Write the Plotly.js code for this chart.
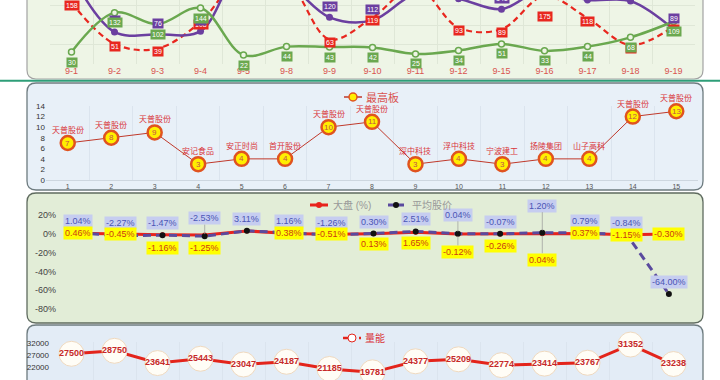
<!DOCTYPE html>
<html><head><meta charset="utf-8">
<script src="https://cdn.plot.ly/plotly-3.0.1.min.js"></script>
<style>html,body{margin:0;padding:0;background:#fff;}#chart{width:720px;height:380px;}</style>
</head><body><div id="chart"></div>
<script>
// ---------- data ----------
const dates = ['9-1','9-2','9-3','9-4','9-5','9-8','9-9','9-10','9-11','9-12','9-15','9-16','9-17','9-18','9-19'];
// panel 1 (three series, top of chart is cropped)
const redSeries    = [158, 51, 39, 108, 230, 215, 63, 119, 200, 93, 89, 175, 118, 48, 96];
const purpleSeries = [230, 82, 76, 84, 250, 210, 120, 112, 180, 168, 141, 195, 165, 162, 89];
const greenSeries  = [30, 132, 102, 144, 22, 44, 43, 42, 25, 34, 51, 33, 44, 68, 109];
// panel 2 最高板
const boardX     = ['1','2','3','4','5','6','7','8','9','10','11','12','13','14','15'];
const boardVal   = [7, 8, 9, 3, 4, 4, 10, 11, 3, 4, 3, 4, 4, 12, 13];
const boardName  = ['天普股份','天普股份','天普股份','安记食品','安正时尚','首开股份','天普股份','天普股份','深中科技','浮中科技','宁波建工','扬陵集团','山子高科','天普股份','天普股份'];
// panel 3
const marketPct  = [0.46, -0.45, -1.16, -1.25, 3.0, 0.38, -0.51, 0.13, 1.65, -0.12, -0.26, 0.04, 0.37, -1.15, -0.30];
const avgPct     = [1.04, -2.27, -1.47, -2.53, 3.11, 1.16, -1.26, 0.30, 2.51, 0.04, -0.07, 1.20, 0.79, -0.84, -64.00];
const pctTicks   = [20, 0, -20, -40, -60, -80];
// panel 4 量能
const volume     = [27500, 28750, 23641, 25443, 23047, 24187, 21185, 19781, 24377, 25209, 22774, 23414, 23767, 31352, 23238];
const volTicks   = [17000, 22000, 27000, 32000];

// ---------- label layout (style only) ----------
const marketLabelShift = [0, 0, -13, -13, null, 0, 0, -10, -11, -18, -12, -26, 0, 0, 0];
const avgLabelShift    = [12, 13, 12, 18, 12, 12, 12, 12, 12, 19, 12, 27, 12, 12, 12];

const W = 720, H = 380;
const px = p => p / W;
const py = p => 1 - p / H;
const FONT = 'Liberation Sans, Noto Sans CJK SC, sans-serif';

function roundRect(x0, y0, x1, y1, r) {
  return `M ${px(x0+r)},${py(y0)} L ${px(x1-r)},${py(y0)} Q ${px(x1)},${py(y0)} ${px(x1)},${py(y0+r)} ` +
         `L ${px(x1)},${py(y1-r)} Q ${px(x1)},${py(y1)} ${px(x1-r)},${py(y1)} L ${px(x0+r)},${py(y1)} ` +
         `Q ${px(x0)},${py(y1)} ${px(x0)},${py(y1-r)} L ${px(x0)},${py(y0+r)} Q ${px(x0)},${py(y0)} ${px(x0+r)},${py(y0)} Z`;
}

const traces = [
  // panel 1
  {x: dates, y: redSeries, xaxis: 'x', yaxis: 'y', name: '红', mode: 'lines',
   line: {color: '#e8271f', width: 2.2, dash: '6px,4px', shape: 'spline', smoothing: 1}},
  {x: dates, y: purpleSeries, xaxis: 'x', yaxis: 'y', name: '紫', mode: 'lines+markers',
   line: {color: '#6b3fa0', width: 2.5, shape: 'spline', smoothing: 1},
   marker: {size: 7, color: '#6b3fa0'}},
  {x: dates, y: greenSeries, xaxis: 'x', yaxis: 'y', name: '绿', mode: 'lines+markers',
   line: {color: '#6aa84f', width: 2.5, shape: 'spline', smoothing: 1},
   marker: {size: 6, color: '#eef5e6', line: {color: '#6aa84f', width: 1.5}}},
  // panel 2
  {x: boardX, y: boardVal, xaxis: 'x2', yaxis: 'y2', name: '最高板', mode: 'lines+markers',
   line: {color: '#c0392b', width: 1}, cliponaxis: false,
   marker: {size: 14, color: '#ffef00', line: {color: '#e0531f', width: 2.5}}},
  // panel 3
  {x: dates, y: marketPct, xaxis: 'x3', yaxis: 'y3', name: '大盘 (%)', mode: 'lines+markers',
   line: {color: '#e8231c', width: 3}, marker: {size: 5, color: '#e8231c'}, cliponaxis: false},
  {x: dates, y: avgPct, xaxis: 'x3', yaxis: 'y3', name: '平均股价', mode: 'lines+markers',
   line: {color: '#5a4a9e', width: 3, dash: '8px,5px'}, marker: {size: 6, color: '#111'}, cliponaxis: false},
  // panel 4
  {x: dates, y: volume, xaxis: 'x4', yaxis: 'y4', name: '量能', mode: 'lines+markers+text',
   line: {color: '#e3241b', width: 3}, cliponaxis: false,
   marker: {size: 25, color: '#fffdf6', line: {color: '#efd9bf', width: 1}},
   text: volume.map(String), textposition: 'middle center',
   textfont: {size: 9, color: '#c62828', weight: 'bold', family: FONT}}
];

// ---------- annotations ----------
const annotations = [];
const y1Top = 164.8;
function boxLabel(x, y, text, bg, shift) {
  annotations.push({xref: 'x', yref: 'y', x, y, text, showarrow: false, yshift: shift,
    bgcolor: bg, borderpad: 1, font: {size: 7, color: '#fff', family: FONT}});
}
// red labels (confined into the grid when slightly out of it)
dates.forEach((d, i) => {
  const v = redSeries[i];
  if (v > 180) return;
  boxLabel(i, v > y1Top ? 131 : v, String(v), '#e8271f', -3);
});
dates.forEach((d, i) => boxLabel(i, purpleSeries[i], String(purpleSeries[i]), '#6b3fa0', 11));
dates.forEach((d, i) => boxLabel(i, greenSeries[i], String(greenSeries[i]), '#6aa84f', -10));

// panel 2 labels (x given as category index)
boardX.forEach((d, i) => {
  annotations.push({xref: 'x2', yref: 'y2', x: i, y: boardVal[i], text: boardName[i], showarrow: false,
    yshift: 13, font: {size: 8, color: '#d9343a', family: FONT}});
  annotations.push({xref: 'x2', yref: 'y2', x: i, y: boardVal[i], text: String(boardVal[i]), showarrow: false,
    yshift: 0, font: {size: 8, color: '#c0504d', family: FONT}});
});

// panel 3 labels
function pctLabel(i, v, shift, bg, color) {
  const a = {xref: 'x3', yref: 'y3', x: i, y: v, text: v.toFixed(2) + '%',
    bgcolor: bg, borderpad: 1, font: {size: 9, color, family: FONT}};
  if (Math.abs(shift) > 14) {
    Object.assign(a, {showarrow: true, arrowhead: 0, arrowwidth: 0.7, arrowcolor: '#9a9a9a', ax: 0, ay: -shift, standoff: 2});
  } else {
    Object.assign(a, {showarrow: false, yshift: shift});
  }
  annotations.push(a);
}
dates.forEach((d, i) => pctLabel(i, avgPct[i], avgLabelShift[i], '#c6cdf0', '#4a55b5'));
dates.forEach((d, i) => { if (marketLabelShift[i] !== null) pctLabel(i, marketPct[i], marketLabelShift[i], '#ffff00', '#cc3a12'); });

// legends (drawn manually)
function legendText(x, y, text, color, size) {
  annotations.push({xref: 'paper', yref: 'paper', x: px(x), y: py(y), text, showarrow: false,
    xanchor: 'left', yanchor: 'middle', font: {size, color, family: FONT}});
}
legendText(364, 97, '最高板', '#d9534f', 11);
legendText(331, 205, '大盘 (%)', '#999', 10);
legendText(410, 205, '平均股价', '#999', 10);
legendText(363, 338, '量能', '#d9343a', 10);

// ---------- shapes ----------
const shapes = [
  {type: 'path', xref: 'paper', yref: 'paper', layer: 'below', path: roundRect(27, -12, 703, 79, 9),
   fillcolor: '#eef5e6', line: {color: '#a3a3a3', width: 1.2}},
  {type: 'line', xref: 'paper', yref: 'paper', layer: 'below', x0: 0, x1: 1, y0: py(80.8), y1: py(80.8),
   line: {color: '#2e9e78', width: 2}},
  {type: 'path', xref: 'paper', yref: 'paper', layer: 'below', path: roundRect(27, 83, 703, 190, 9),
   fillcolor: '#e8f0f8', line: {color: '#6d7b7f', width: 1.3}},
  {type: 'path', xref: 'paper', yref: 'paper', layer: 'below', path: roundRect(27, 193, 703, 323, 9),
   fillcolor: '#e2edd7', line: {color: '#5f6b5f', width: 1.3}},
  {type: 'path', xref: 'paper', yref: 'paper', layer: 'below', path: roundRect(27, 325, 703, 400, 9),
   fillcolor: '#e3ecf6', line: {color: '#6d7b7f', width: 1.3}},
  // legend icons
  {type: 'line', xref: 'paper', yref: 'paper', x0: px(344), x1: px(362), y0: py(97), y1: py(97), line: {color: '#c0392b', width: 1.5}},
  {type: 'circle', xref: 'paper', yref: 'paper', x0: px(349), x1: px(357), y0: py(101), y1: py(93), fillcolor: '#ffef00', line: {color: '#e0531f', width: 1.5}},
  {type: 'line', xref: 'paper', yref: 'paper', x0: px(310), x1: px(328), y0: py(205), y1: py(205), line: {color: '#e8231c', width: 3}},
  {type: 'circle', xref: 'paper', yref: 'paper', x0: px(316), x1: px(322), y0: py(208), y1: py(202), fillcolor: '#e8231c', line: {width: 0}},
  {type: 'line', xref: 'paper', yref: 'paper', x0: px(388), x1: px(404), y0: py(205), y1: py(205), line: {color: '#5a4a9e', width: 3}},
  {type: 'circle', xref: 'paper', yref: 'paper', x0: px(393), x1: px(399), y0: py(208), y1: py(202), fillcolor: '#111', line: {width: 0}},
  {type: 'line', xref: 'paper', yref: 'paper', x0: px(343), x1: px(361), y0: py(338), y1: py(338), line: {color: '#e3241b', width: 2.5, dash: '5px,3px'}},
  {type: 'circle', xref: 'paper', yref: 'paper', x0: px(348), x1: px(356), y0: py(342), y1: py(334), fillcolor: '#fff', line: {color: '#e3241b', width: 1}}
];

const catAxis = (domain, extra) => Object.assign({type: 'category', domain, range: [-0.5, 14.5],
  fixedrange: true, zeroline: false, ticks: '', showline: false}, extra);

const layout = {
  width: W, height: H, margin: {l: 0, r: 0, t: 0, b: 0},
  paper_bgcolor: '#ffffff', plot_bgcolor: 'rgba(0,0,0,0)',
  font: {family: FONT, size: 9, color: '#333'},
  showlegend: false, hovermode: false,
  xaxis: catAxis([px(50), px(695)], {anchor: 'y', tickson: 'boundaries', showgrid: true, gridcolor: '#dfe7d7',
    tickfont: {size: 9, color: '#d9534f'}}),
  yaxis: {domain: [py(63.6), 1], range: [0, y1Top], dtick: 50, anchor: 'x', showticklabels: false,
    showgrid: true, gridcolor: '#dfe7d7', zeroline: false, fixedrange: true},
  xaxis2: catAxis([px(46), px(698)], {anchor: 'y2', tickson: 'boundaries', showgrid: true, gridcolor: '#dbe4ee',
    showline: true, linecolor: '#cdd6df', tickfont: {size: 7, color: '#555'}}),
  yaxis2: {domain: [py(180), py(106)], range: [0, 14], dtick: 2, anchor: 'x2', showgrid: false, zeroline: false,
    tickfont: {size: 8, color: '#333'}, fixedrange: true},
  xaxis3: catAxis([px(57), px(690)], {anchor: 'y3', showticklabels: false, showgrid: false}),
  yaxis3: {domain: [py(309.5), py(214.5)], range: [-80.5, 20.5], tickmode: 'array', tickvals: pctTicks,
    ticktext: pctTicks.map(v => v + '%'),
    anchor: 'x3', showgrid: false, zeroline: false, tickfont: {size: 9, color: '#444'}, fixedrange: true},
  xaxis4: catAxis([px(50), px(695)], {anchor: 'y4', tickson: 'boundaries', showticklabels: false, showgrid: true, gridcolor: '#dbe4ee'}),
  yaxis4: {domain: [0, py(342)], range: [16583, 32417], tickmode: 'array', tickvals: volTicks,
    ticktext: volTicks.map(String), anchor: 'x4',
    showgrid: false, zeroline: false, tickfont: {size: 8, color: '#333'}, fixedrange: true},
  shapes, annotations
};

Plotly.newPlot('chart', traces, layout, {staticPlot: true, displayModeBar: false});
</script></body></html>
